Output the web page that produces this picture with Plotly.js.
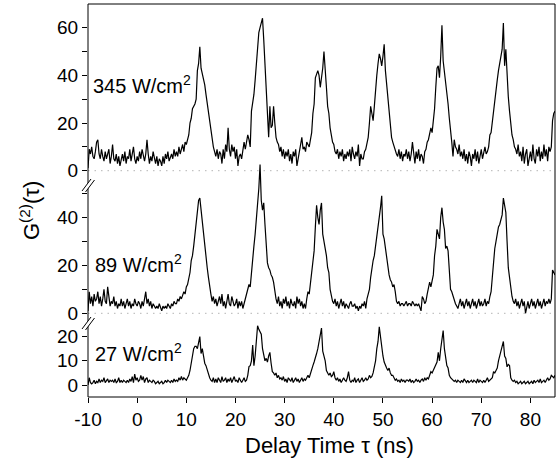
<!DOCTYPE html>
<html><head><meta charset="utf-8">
<script src="https://cdn.plot.ly/plotly-3.0.1.min.js"></script>
<style>html,body{margin:0;padding:0;background:#fff}</style>
</head><body>
<div id="chart" style="width:560px;height:466px"></div>
<script>
// Delay time grid: first sample and spacing (ns)
const tStart = -10, tStep = 0.25;

// G2 counts, 345 W/cm2 (top panel)
const g345 = [
1,9,7,10, 6,5,8,12, 13,7,5,9, 6,4,8,5, 7,9,3,6, 11,5,4,7, 3,6,2,5, 7,4,8,3, 6,5,9,4, 7,10,5,3,
6,4,8,5, 9,6,4,7, 13,7,3,6, 4,8,5,3, 6,2,5,4, 2,6,3,7, 5,8,4,6, 7,5,9,6, 8,6,10,7, 9,11,8,12,
11,13,15,20, 22,26,27,28, 30,42,45,52, 43,41,38,36, 32,28,24,21, 16,14,10,8, 6,9,5,8, 7,3,9,5, 11,8,18,9, 6,11,8,10,
5,9,2,6, 7,5,8,12, 9,12,15,13, 10,25,28,32, 38,46,51,58, 60,62,64,55, 46,35,24,14, 27,18,19,27, 20,14,12,11, 8,10,6,9,
5,8,6,9, 4,7,3,8, 6,9,2,5, 7,11,14,9, 10,8,12,11, 10,13,16,24, 28,39,41,42, 40,35,39,43, 50,40,35,27, 24,18,15,12,
11,8,7,9, 5,8,6,9, 4,7,5,8, 6,9,4,10, 7,5,8,6, 11,2,7,5, 5,8,9,12, 14,20,27,24, 21,27,35,40, 45,49,47,44,
48,53,42,36, 31,23,18,14, 12,10,8,7, 6,9,5,8, 4,7,6,9, 5,8,4,7, 12,6,3,8, 5,9,4,7, 6,3,8,9, 12,13,16,18,
16,20,26,35, 43,44,39,48, 61,46,42,38, 32,28,22,18, 12,6,13,10, 9,7,11,6, 8,5,9,4, 7,3,8,6, 2,7,5,9, 4,8,3,6,
9,5,7,10, 7,8,10,15, 16,21,25,29, 35,38,42,45, 47,51,62,44, 51,40,31,25, 19,15,13,10, 9,7,11,6, 8,4,10,3, 7,9,2,6,
8,4,11,5, 3,9,6,10, 4,8,5,11, 6,9,4,10, 8,10,21,24, 25
];

// G2 counts, 89 W/cm2 (middle panel)
const g89 = [
1,9,4,7, 3,8,5,6, 9,4,7,3, 6,10,5,4, 11,6,3,5, 4,7,3,5, 2,4,3,6, 3,5,2,4, 6,3,5,2, 4,3,6,4,
3,5,4,2, 5,3,7,9, 4,6,3,5, 2,4,3,2, 3,2,4,2, 1,3,2,3, 2,4,3,2, 4,3,5,4, 4,6,5,7, 6,8,9,8,
11,12,15,17, 22,24,28,33, 39,43,47,48, 43,38,31,27, 22,19,15,10, 8,5,7,4, 6,3,5,7, 4,8,3,5, 2,6,8,4, 3,7,5,3,
4,6,2,5, 3,5,2,4, 6,8,11,12, 11,18,24,28, 33,39,45,52, 62,47,43,46, 37,30,21,19, 18,16,15,13, 8,6,4,7, 3,5,2,6,
4,7,3,5, 2,6,4,3, 5,2,7,4, 6,3,5,2, 4,2,6,9, 8,12,17,22, 26,36,45,40, 37,43,46,33, 30,27,24,19, 17,10,7,5,
4,6,3,5, 2,4,6,3, 5,2,4,3, 2,4,5,3, 3,4,2,3, 1,3,2,4, 3,5,2,6, 8,10,15,19, 22,24,28,31, 34,38,44,49,
33,31,27,22, 19,16,14,13, 11,12,9,5, 4,5,3,4, 4,3,4,5, 3,4,4,3, 5,4,3,4, 3,4,2,1, 7,6,4,5, 8,10,13,11,
14,16,24,28, 35,33,31,40, 44,38,35,27, 28,26,18,10, 9,7,6,4, 3,2,4,6, 3,5,2,4, 6,3,5,2, 4,6,3,5, 2,4,6,3,
5,3,4,6, 3,5,4,7, 9,15,22,27, 30,33,36,37, 39,41,48,45, 42,30,19,15, 10,7,5,4, 6,3,5,2, 4,6,3,5, 0,3,5,2,
4,6,3,5, 2,4,6,3, 5,2,4,6, 3,5,4,6, 4,6,18,17, 16
];

// G2 counts, 27 W/cm2 (bottom panel)
const g27 = [
0,3,1,0.5, 1,2,0.5,1.5, 1,2.5,1,2, 1.5,3,1,2, 2.5,1,2,1.5, 2,1,2.5,1, 1.5,3,1,2, 1,2,1.5,1, 2,1,2.5,1.5, 3.5,1,4.5,2,
3,1.5,2,4, 2,3.5,1,2.5, 3,1,2,1.5, 1,2,1.5,0.5, 1,1.5,0.5,1, 1.5,0.5,1,2, 1,2,1.5,1, 2,1,2.5,1.5, 2,1.5,3,2, 3.5,2,3,2.5,
2,3,4,6, 9,11,15,16, 16,15,18,20, 13,15,12,9, 8,6,5,3, 2,1.5,3,1, 2.5,1,3,2, 1,3.5,1.5,2, 3,1,2.5,1.5, 3,1,2,3.5,
1.5,2,1,3, 2,1,2,3, 1.5,2,4,7.6, 8,10,16.5,8, 12,18,24.5,23, 22,21,15,12, 10,11,9.5,12, 13.5,9,5.5,5, 4,5,3,4, 2.5,3,2,3.5,
1.5,2.5,1,3, 2,1.5,3,1, 2,3,1.5,2.5, 1,2,3,1.5, 2.5,2,3,4, 3,5,7,8, 9.5,12,13,15, 18.5,20,23.5,14, 12,10,6,5, 4,5,3.5,4,
5.5,3,2,3, 1.5,2.5,1,2, 3,2,1.5,3, 5.5,2,1,2, 1.5,3,1,2, 2.5,1,2,3, 1.5,2,3,2, 2.5,4,3,3.5, 5,7,10,15, 18,24,19,15,
12,9.5,8,7, 6,7,5,4, 4,3,2,2.5, 1.5,2,1,2.5, 1.5,2,1,2, 2,1.5,2.5,1, 2,1,1.5,2.5, 1.5,2,1,2, 2.5,1.5,3,2, 3,2.5,4,5.5,
5,6,7,8, 9.5,13.5,10,15, 18,22.5,15,12, 8,7,4,3, 2.5,2,1.5,2, 1,2,1.5,1, 2,1,2.5,1.5, 1,2,1,1.5, 2,1,2,1.5, 1,2.5,1,2,
1.5,1,2,1, 2,3,1.5,2, 2.5,3,5.5,5, 6,7,10,12, 14.5,16,18,12, 11,7.5,8.5,8, 3,2,1.5,2, 1,1.5,0.5,1, 1.5,0.5,1,1.5, 0.5,1,1.5,0.5,
1,1.5,0.5,2, 1,1.5,2,1, 2.5,1,1.5,2, 1,2,3,2, 2.5,4,3.5,3, 4
];

const xTickVals = [-10,0,10,20,30,40,50,60,70,80];
const xTickText = ['-10','0','10','20','30','40','50','60','70','80'];
const topTicks = [0,20,40,60];
const topMinor = [10,30,50];
const midTicks = [0,20,40];
const midMinor = [10,30,50];
const botTicks = [0,10,20];
const panelLabels = ['345 W/cm<sup>2</sup>','89 W/cm<sup>2</sup>','27 W/cm<sup>2</sup>'];
const xTitle = 'Delay Time τ (ns)';
const yTitle = 'G<sup>(2)</sup>(τ)';

// pixel -> paper helpers (plot area: x 88..555, y 4..397)
const L = 88, R = 555, T = 4, B = 397;
const px = v => (v - L) / (R - L);
const py = v => (B - v) / (B - T);

const times = arr => arr.map((_, i) => tStart + i * tStep);
const lineStyle = {color: '#000', width: 1.2};
const FONT = 'Arial, "Liberation Sans", sans-serif';

const traces = [
  {x: times(g345), y: g345, xaxis: 'x', yaxis: 'y', type: 'scatter', mode: 'lines', line: lineStyle, hoverinfo: 'skip'},
  {x: times(g89), y: g89, xaxis: 'x', yaxis: 'y2', type: 'scatter', mode: 'lines', line: lineStyle, hoverinfo: 'skip'},
  {x: times(g27), y: g27, xaxis: 'x', yaxis: 'y3', type: 'scatter', mode: 'lines', line: lineStyle, hoverinfo: 'skip'}
];

function yAx(dom, rng, vals, minorVals) {
  const ax = {domain: dom, range: rng, anchor: 'x', tickmode: 'array', tickvals: vals,
    ticktext: vals.map(String),
    ticks: 'outside', ticklen: 5, tickwidth: 1, tickcolor: '#000', showline: false, showgrid: false,
    zeroline: false, tickfont: {size: 19, color: '#000', family: FONT}, fixedrange: true};
  if (minorVals) {
    ax.minor = {tickmode: 'array', tickvals: minorVals, ticks: 'outside', ticklen: 5, tickwidth: 1,
      tickcolor: '#000', showgrid: false};
  }
  return ax;
}

function brk(cy) {
  return [
    {type: 'path', xref: 'paper', yref: 'paper', layer: 'above', fillcolor: '#fff', line: {width: 0},
     path: `M ${px(82)} ${py(cy+6)} L ${px(91)} ${py(cy-6)} L ${px(94.5)} ${py(cy-5)} L ${px(85.5)} ${py(cy+7)} Z`},
    {type: 'line', xref: 'paper', yref: 'paper', layer: 'above', line: {color: '#000', width: 1},
     x0: px(82), y0: py(cy+6), x1: px(91), y1: py(cy-6)},
    {type: 'line', xref: 'paper', yref: 'paper', layer: 'above', line: {color: '#000', width: 1},
     x0: px(85.5), y0: py(cy+7), x1: px(94.5), y1: py(cy-5)}
  ];
}

const layout = {
  width: 560, height: 466,
  margin: {l: L, r: 560 - R, t: T, b: 466 - B, pad: 0},
  paper_bgcolor: '#fff', plot_bgcolor: 'rgba(0,0,0,0)',
  showlegend: false,
  font: {family: FONT, color: '#000'},
  xaxis: {domain: [0, 1], range: [-10, 85], anchor: 'y3', tickmode: 'array', tickvals: xTickVals, ticktext: xTickText,
    ticks: 'outside', ticklen: 5, tickwidth: 1, tickcolor: '#000', showline: false, showgrid: false,
    zeroline: false, tickfont: {size: 19, color: '#000', family: FONT}, fixedrange: true},
  yaxis: yAx([py(179), 1], [(170.7 - 179) / 2.383, (170.7 - 4) / 2.383], topTicks, topMinor),
  yaxis2: yAx([py(322), py(155)], [(313.3 - 322) / 2.4, (313.3 - 155) / 2.4], midTicks, midMinor),
  yaxis3: yAx([0, py(322)], [(385 - 397) / 2.42, (385 - 322) / 2.42], botTicks, null),
  shapes: [
    {type: 'line', xref: 'x', yref: 'y', layer: 'below', x0: -10, x1: 85, y0: 0, y1: 0,
     line: {color: '#b4b4b4', width: 1, dash: '1.5px,5px'}},
    {type: 'line', xref: 'x', yref: 'y2', layer: 'below', x0: -10, x1: 85, y0: 0, y1: 0,
     line: {color: '#b4b4b4', width: 1, dash: '1.5px,5px'}},
    {type: 'rect', xref: 'paper', yref: 'paper', layer: 'above', x0: 0, x1: 1, y0: 0, y1: 1,
     line: {color: '#000', width: 1}, fillcolor: 'rgba(0,0,0,0)'},
    ...brk(185), ...brk(323)
  ],
  annotations: [
    {text: panelLabels[0], xref: 'paper', yref: 'paper', x: px(91), y: py(84), xanchor: 'left', yanchor: 'middle',
     showarrow: false, font: {size: 20, family: FONT, color: '#000'}},
    {text: panelLabels[1], xref: 'paper', yref: 'paper', x: px(93), y: py(263), xanchor: 'left', yanchor: 'middle',
     showarrow: false, font: {size: 20, family: FONT, color: '#000'}},
    {text: panelLabels[2], xref: 'paper', yref: 'paper', x: px(93), y: py(352), xanchor: 'left', yanchor: 'middle',
     showarrow: false, font: {size: 20, family: FONT, color: '#000'}},
    {text: xTitle, xref: 'paper', yref: 'paper', x: px(329.5), y: py(445), xanchor: 'center', yanchor: 'middle',
     showarrow: false, font: {size: 22, family: FONT, color: '#000'}},
    {text: yTitle, xref: 'paper', yref: 'paper', x: px(30), y: py(211), xanchor: 'center', yanchor: 'middle',
     textangle: -90, showarrow: false, font: {size: 22, family: FONT, color: '#000'}}
  ]
};

Plotly.newPlot('chart', traces, layout, {staticPlot: true, displayModeBar: false});
</script>
</body></html>
